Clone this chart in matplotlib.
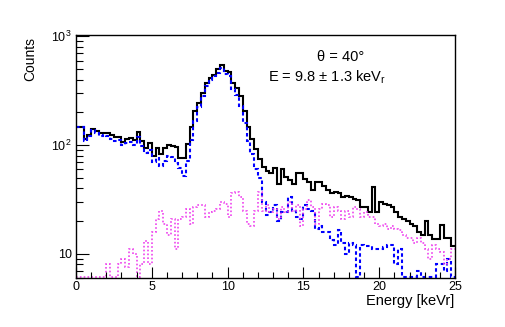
import numpy as np
import matplotlib
matplotlib.use("Agg")
import matplotlib.pyplot as plt
from matplotlib.ticker import FixedLocator, FixedFormatter, MultipleLocator, NullFormatter

plt.rcParams['font.family'] = ['Liberation Sans', 'DejaVu Sans']
plt.rcParams['mathtext.fontset'] = 'custom'
plt.rcParams['mathtext.rm'] = 'Liberation Sans'
plt.rcParams['mathtext.it'] = 'Liberation Sans:italic'
plt.rcParams['mathtext.bf'] = 'Liberation Sans:bold'

# ---- data (0.25 keVr bins from 0 to 25) ----
bin_width = 0.25
e_min, e_max = 0.0, 25.0

total_counts = [
    146, 146, 115, 125, 141, 135, 128, 128, 128, 123,
    118, 118, 107, 115, 117, 112, 131, 110, 94, 105,
    80, 95, 82, 95, 100, 98, 97, 76, 76, 103,
    146, 207, 246, 303, 375, 417, 446, 496, 550, 480,
    470, 375, 337, 284, 207, 146, 115, 93, 75, 63,
    58, 55, 61, 44, 60, 51, 48, 44, 55, 55,
    49, 46, 39, 46, 46, 42, 39, 36, 37, 36,
    33, 34, 33, 32, 31, 27, 27, 24, 41, 24,
    30, 29, 28, 27, 24, 22, 21, 20, 19, 18,
    16, 15, 20, 15, 13.6, 13.6, 18.5, 14, 14, 11.7,
]

nr_counts = [
    146, 146, 110, 122, 138, 130, 122, 124, 120, 115,
    110, 112, 100, 105, 106, 100, 118, 98, 84, 90,
    70, 76, 64, 72, 80, 77, 68, 62, 52, 72,
    112, 165, 225, 280, 350, 400, 430, 465, 515, 450,
    430, 330, 290, 230, 160, 110, 82, 60, 50, 30,
    23, 24, 28, 20, 24, 24, 33, 25, 22, 21,
    28, 26, 25, 17, 18, 16, 16, 13.5, 12, 16.6,
    12.6, 10, 12.5, 12, 0, 12, 11.7, 11.7, 11, 11,
    11, 11.5, 12, 12, 8, 11, 0, 0, 0, 0,
    7, 0, 0, 0, 0, 8, 8, 7, 9, 0,
]

bkg_counts = [
    0, 0, 0, 0, 0, 0, 0, 0, 8, 0,
    0, 8, 9, 7.5, 11, 10, 0, 8, 13, 8,
    16, 21, 25, 19, 15, 21, 11, 21, 22, 26,
    19, 27, 28, 28, 22, 24, 25, 26, 30, 29,
    22, 36, 37, 33, 25, 19, 18, 25, 37, 25,
    28, 24, 26, 21, 27, 24, 30, 25, 28, 18,
    26, 31, 27, 19, 26, 29, 28, 22, 27, 25,
    21, 25, 22, 27, 26, 22, 24, 22, 22, 19,
    18, 19, 17, 18, 17, 16.6, 15, 14, 14, 12.6,
    14, 12.6, 11, 9, 12, 11, 10.5, 8, 9, 11,
]

x_ticks = [0, 5, 10, 15, 20, 25]
y_ticks = [10, 100, 1000]
y_tick_labels = ['10', r'$10^{2}$', r'$10^{3}$']

y_min, y_max = 6.0, 1030.0

# ---- figure ----
fig = plt.figure(figsize=(5.05, 3.27), dpi=100)
ax = fig.add_axes([0.1505, 0.150, 0.7505, 0.743])

edges = np.arange(len(total_counts) + 1) * bin_width + e_min

def clipped(v):
    return np.clip(np.asarray(v, dtype=float), y_min * 1.02, None)

ax.stairs(clipped(total_counts), edges, baseline=None, color='black', lw=1.5)
ax.stairs(clipped(nr_counts), edges, baseline=None, color='#0000ff', lw=1.5,
          linestyle=(0, (1.7, 1.3)))
ax.stairs(clipped(bkg_counts), edges, baseline=None, color='#ee44ee', lw=1.2,
          linestyle=(0, (1, 1.3)))

ax.set_yscale('log')
ax.set_xlim(e_min, e_max)
ax.set_ylim(y_min, y_max)

ax.xaxis.set_major_locator(FixedLocator(x_ticks))
ax.xaxis.set_minor_locator(MultipleLocator(1))
ax.set_xticklabels([str(t) for t in x_ticks])

ax.yaxis.set_major_locator(FixedLocator(y_ticks))
ax.yaxis.set_major_formatter(FixedFormatter(y_tick_labels))
minor_y = [m * 10 ** d for d in range(0, 4) for m in range(2, 10)]
ax.yaxis.set_minor_locator(FixedLocator(minor_y))
ax.yaxis.set_minor_formatter(NullFormatter())

ax.tick_params(axis='both', which='both', direction='in', top=False, right=False,
               labelsize=9, width=0.8, color='black')
ax.tick_params(axis='y', which='major', length=9, pad=3)
ax.tick_params(axis='y', which='minor', length=5)
ax.tick_params(axis='x', which='major', length=8, pad=2)
ax.tick_params(axis='x', which='minor', length=4)

for s in ax.spines.values():
    s.set_linewidth(1.0)
    s.set_color('black')

W, H = 505.0, 327.0
fig.text(30 / W, 1 - 37 / H, 'Counts', rotation=90, ha='center', va='top', fontsize=10)
fig.text(454 / W, 1 - 301 / H, 'Energy [keVr]', ha='right', va='center', fontsize=10.5)

fig.text(341 / W, 1 - 57 / H, 'θ = 40°', ha='center', va='center', fontsize=10.5)
fig.text(268 / W, 1 - 82 / H, r'E = 9.8 ± 1.3 keV$_{\mathrm{r}}$', ha='left',
         va='baseline', fontsize=10.5)

fig.savefig('out.png', dpi=100)
